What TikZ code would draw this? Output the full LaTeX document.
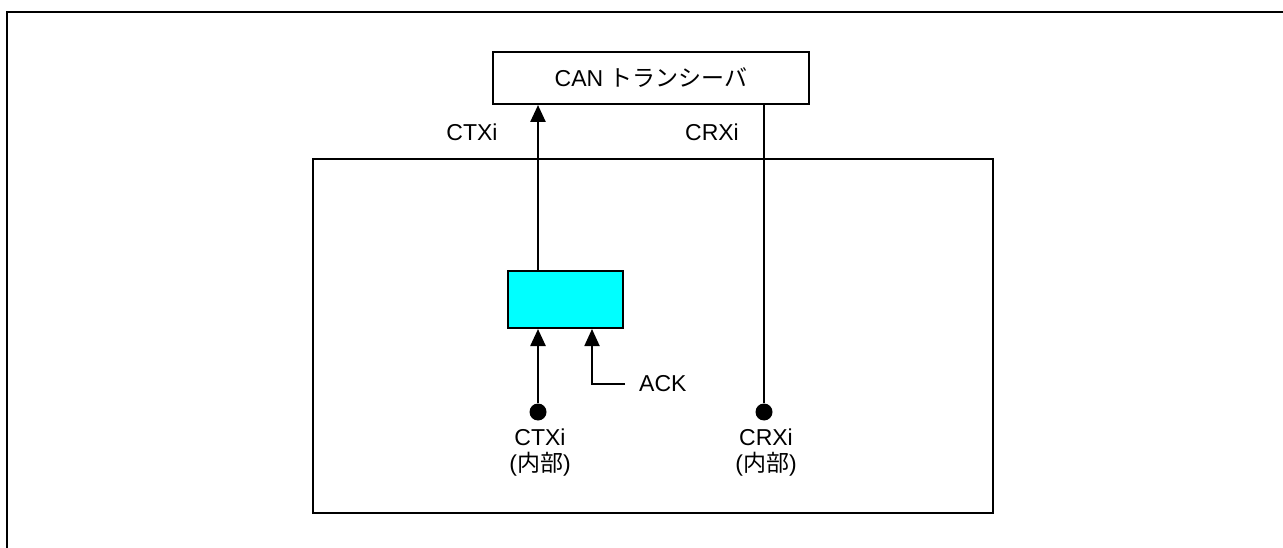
\documentclass[tikz,border=0pt]{standalone}
\usepackage{fontspec}
\setmainfont{Liberation Sans}
\newfontfamily\cjk{Noto Sans CJK JP}
\usetikzlibrary{arrows.meta}
\definecolor{selcyan}{RGB}{0,255,255}
\tikzset{
  lbl/.style={inner sep=0pt, font=\fontsize{23}{26}\selectfont, align=center},
  box/.style={draw, line width=2pt, inner sep=0pt},
  wire/.style={line width=1.8pt},
  sig/.style={line width=2.5pt},
  arr/.style={-{Triangle[length=17pt,width=15pt]}},
  dotn/.style={circle, fill=black, minimum size=17pt, inner sep=0pt},
}
\begin{document}
\begin{tikzpicture}[x=1pt,y=-1pt]
\useasboundingbox (0,0) rectangle (1283,548);
% outer frame (partial)
\draw[line width=1.6pt] (7,548) -- (7,12) -- (1283,12);
% inner block
\draw[line width=2pt] (313,159) rectangle (993,513);
% transceiver
\node[box, minimum width=316pt, minimum height=52pt, lbl] (trx) at (651,78) {CAN {\cjk トランシーバ}};
% cyan block
\node[box, fill=selcyan, minimum width=115pt, minimum height=57pt] (sel) at (565.5,299.5) {};
% dots
\node[dotn] (d1) at (538,412) {};
\node[dotn] (d2) at (764,412) {};
% labels
\node[lbl] (ltx) at (472,132) {CTXi};
\node[lbl] (lrx) at (712,132) {CRXi};
\node[lbl, anchor=north] (btx) at (540,429) {CTXi\\({\cjk 内部})};
\node[lbl, anchor=north] (brx) at (766,429) {CRXi\\({\cjk 内部})};
\node[lbl, anchor=west] (ack) at (639,384) {ACK};
\coordinate (ackc) at (592,384);
\coordinate (ackend) at (625,384);
% connectors
\draw[sig, arr] (sel.north -| d1) -- (trx.south -| d1);
\draw[sig, arr] (d1) -- (sel.south -| d1);
\draw[wire, arr] (ackend) -- (ackc) -- (sel.south -| ackc);
\draw[wire] (trx.south -| d2) -- (d2);
\end{tikzpicture}
\end{document}
